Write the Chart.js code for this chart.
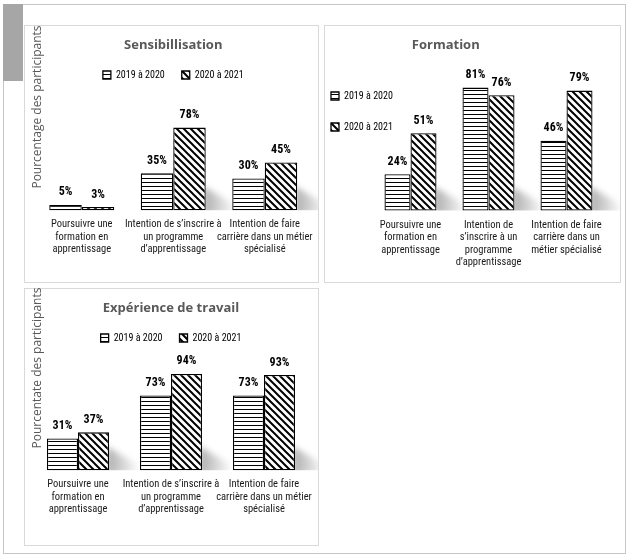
<!DOCTYPE html>
<html>
<head>
<meta charset="utf-8">
<script src="https://cdn.jsdelivr.net/npm/chart.js@4.4.1/dist/chart.umd.min.js"></script>
<style>
  * { box-sizing: border-box; }
  body { margin: 0; background: #fff; width: 630px; height: 559px; position: relative; overflow: hidden; }
  .frame { position: absolute; left: 3px; top: 4px; width: 623px; height: 550px; border: 1px solid #c6c6c6; }
  .tab { position: absolute; left: 3px; top: 4px; width: 20px; height: 77px; background: #a6a6a6; }
  .panel { position: absolute; border: 1px solid #d9d9d9; background: #fff; }
  .panel canvas { display: block; }
  .ytitle { position: absolute; white-space: nowrap; font: 12px "Open Sans", sans-serif; color: #595959;
            transform: translate(-50%, -50%) rotate(-90deg); }
</style>
</head>
<body>
<div class="frame"></div>
<div class="tab"></div>
<div class="panel" style="left:24px;top:25px;width:295px;height:258px"><div style="position:relative;width:293px;height:256px"><canvas id="chart1"></canvas></div></div>
<div class="panel" style="left:324px;top:25px;width:297px;height:258px"><div style="position:relative;width:295px;height:256px"><canvas id="chart2"></canvas></div></div>
<div class="panel" style="left:24px;top:288px;width:295px;height:258px"><div style="position:relative;width:293px;height:256px"><canvas id="chart3"></canvas></div></div>
<div class="ytitle" style="left:36px;top:107px">Pourcentage des participants</div>
<div class="ytitle" style="left:36px;top:368px">Pourcentate des participants</div>
<script>
const seriesNames = ["2019 à 2020", "2020 à 2021"];

const categories1 = [
    ["Poursuivre une", "formation en", "apprentissage"],
    ["Intention de s’inscrire à", "un programme", "d’apprentissage"],
    ["Intention de faire", "carrière dans un métier", "spécialisé"]
];
const categories2 = [
    ["Poursuivre une", "formation en", "apprentissage"],
    ["Intention de", "s’inscrire à un", "programme", "d’apprentissage"],
    ["Intention de faire", "carrière dans un", "métier spécialisé"]
];
const categories3 = [
    ["Poursuivre une", "formation en", "apprentissage"],
    ["Intention de s’inscrire à", "un programme", "d’apprentissage"],
    ["Intention de faire", "carrière dans un métier", "spécialisé"]
];

const sensib2019 = [5, 35, 30];
const sensib2020 = [3, 78, 45];
const formation2019 = [24, 81, 46];
const formation2020 = [51, 76, 79];
const experience2019 = [31, 73, 73];
const experience2020 = [37, 94, 93];

const NARROW = '"Roboto Condensed", "Archivo Narrow", "DejaVu Sans Condensed", sans-serif';
const TITLE_FONT = '"Open Sans", sans-serif';

// hatch fills like the Excel patterns
const makeHatch = (kind) => {
    const c = document.createElement("canvas");
    const s = kind === "h" ? 4 : 7;
    c.width = s; c.height = s;
    const g = c.getContext("2d");
    g.fillStyle = "#fff";
    g.fillRect(0, 0, s, s);
    if (kind === "h") {
        g.fillStyle = "#000";
        g.fillRect(0, 0, s, 1);
    } else {
        g.strokeStyle = "#000";
        g.lineWidth = 2;
        g.beginPath();
        g.moveTo(-1, -1); g.lineTo(s + 1, s + 1);
        g.moveTo(-s - 1, -1); g.lineTo(1, s + 1);
        g.moveTo(s - 1, -1); g.lineTo(2 * s + 1, s + 1);
        g.stroke();
    }
    return g.createPattern(c, "repeat");
};
const hatchH = makeHatch("h");
const hatchD = makeHatch("d");

const valueLabels = {
    id: "valueLabels",
    afterDatasetsDraw(chart) {
        const ctx = chart.ctx;
        ctx.save();
        ctx.font = "bold 12px " + NARROW;
        ctx.fillStyle = "#000";
        ctx.textAlign = "center";
        ctx.textBaseline = "middle";
        chart.data.datasets.forEach((ds, i) => {
            chart.getDatasetMeta(i).data.forEach((bar, j) => {
                ctx.fillText(ds.data[j] + "%", bar.x, bar.y - 12.5);
            });
        });
        ctx.restore();
    }
};

// soft floor shadow to the right of each bar pair
const floorShadow = {
    id: "floorShadow",
    beforeDatasetsDraw(chart) {
        const ctx = chart.ctx;
        const meta = chart.getDatasetMeta(1);
        meta.data.forEach((bar) => {
            const h = Math.min(bar.base - bar.y, 24);
            if (h < 8) return;
            const right = bar.x + bar.width / 2;
            ctx.save();
            ctx.beginPath();
            ctx.rect(right, bar.base - 40, 50, 40);
            ctx.clip();
            const grad = ctx.createLinearGradient(right, 0, right + 30, 0);
            grad.addColorStop(0, "rgba(0,0,0,0.3)");
            grad.addColorStop(1, "rgba(0,0,0,0)");
            ctx.filter = "blur(3px)";
            ctx.fillStyle = grad;
            ctx.beginPath();
            ctx.moveTo(right - 3, bar.base + 4);
            ctx.lineTo(right - 3, bar.base - h);
            ctx.lineTo(right + 32, bar.base - 4);
            ctx.lineTo(right + 32, bar.base + 4);
            ctx.closePath();
            ctx.fill();
            ctx.restore();
        });
    }
};

const noAxisPadding = (scale) => {
    scale.paddingLeft = 0;
    scale.paddingRight = 0;
};

const makeChart = (id, title, labels, a, b, opts) => {
    const ctx = document.getElementById(id).getContext("2d");
    const legend = {
        position: opts.legendPos,
        align: opts.legendAlign,
        fullSize: opts.legendPos === "top",
        maxWidth: opts.legendPos === "left" ? 120 : undefined,
        labels: {
            boxWidth: 8,
            boxHeight: 8,
            padding: opts.legendPadding,
            color: "#000",
            font: { family: NARROW, size: 10, lineHeight: 1.25 }
        }
    };
    if (opts.stackLegend) {
        legend.labels.generateLabels = (chart) =>
            Chart.defaults.plugins.legend.labels.generateLabels(chart).map(l => ({ ...l, text: [l.text, ""] }));
    }
    // panel 2: an empty y axis fills the gap between the legend and the first category
    const yAxis = opts.plotLeft
        ? {
            display: true, min: 0, max: opts.yMax,
            ticks: { display: false }, grid: { display: false }, border: { display: false },
            afterFit: (s) => { s.width = Math.max(0, opts.plotLeft - (s.chart.legend ? s.chart.legend.width : 0)); }
        }
        : { display: false, min: 0, max: opts.yMax };
    const bars = { borderColor: "#000", borderWidth: 1.3, borderSkipped: false, clip: false };
    return new Chart(ctx, {
        type: "bar",
        data: {
            labels: labels,
            datasets: [
                { ...bars, label: seriesNames[0], data: a, backgroundColor: hatchH },
                { ...bars, label: seriesNames[1], data: b, backgroundColor: hatchD }
            ]
        },
        options: {
            responsive: true,
            maintainAspectRatio: false,
            animation: false,
            categoryPercentage: opts.catPct,
            barPercentage: 1,
            layout: { padding: opts.padding },
            scales: {
                x: {
                    offset: opts.offset,
                    afterFit: noAxisPadding,
                    grid: { display: false, drawTicks: false },
                    border: { display: false },
                    ticks: {
                        padding: 8,
                        autoSkip: false,
                        maxRotation: 0,
                        minRotation: 0,
                        color: "#1a1a1a",
                        font: { family: NARROW, size: 10.5, lineHeight: 1.2 }
                    }
                },
                y: yAxis
            },
            plugins: {
                title: {
                    display: true,
                    text: title,
                    color: "#595959",
                    font: { family: TITLE_FONT, size: 13, weight: "bold", lineHeight: 1.2 },
                    padding: opts.titlePadding
                },
                legend: legend,
                tooltip: { enabled: false }
            }
        },
        plugins: [floorShadow, valueLabels]
    });
};

makeChart("chart1", "Sensibillisation", categories1, sensib2019, sensib2020, {
    legendPos: "top", legendAlign: "center", legendPadding: 17, offset: true,
    titlePadding: { top: 11.2, bottom: 0.2 },
    padding: { left: 11, right: 7.5, top: 0, bottom: 18 },
    catPct: 0.71, yMax: 113.5
});

makeChart("chart2", "Formation", categories2, formation2019, formation2020, {
    legendPos: "left", legendAlign: "start", legendPadding: 6, stackLegend: true, offset: false,
    plotLeft: 85.5,
    titlePadding: { top: 11.2, bottom: 32.2 },
    padding: { left: 0, right: 53.5, top: 0, bottom: 5 },
    catPct: 0.667, yMax: 82.7
});

makeChart("chart3", "Expérience de travail", categories3, experience2019, experience2020, {
    legendPos: "top", legendAlign: "center", legendPadding: 17, offset: true,
    titlePadding: { top: 11.2, bottom: 0.2 },
    padding: { left: 6.5, right: 7.5, top: 0, bottom: 21 },
    catPct: 0.667, yMax: 114.5
});
</script>
</body>
</html>
